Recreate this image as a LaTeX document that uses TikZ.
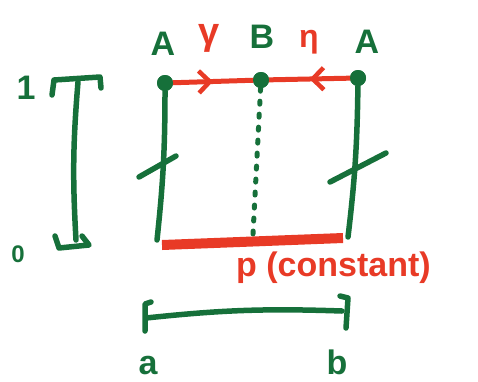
\documentclass[tikz,border=0pt]{standalone}
\usepackage{fontspec}
\setmainfont{Liberation Sans}
\usetikzlibrary{arrows.meta,decorations.markings}
\definecolor{pen}{RGB}{22,112,58}
\definecolor{ink}{RGB}{232,58,38}
\tikzset{
  greenline/.style={draw=pen,line width=5.5pt,line cap=round,line join=round},
  redline/.style={draw=ink,line width=5pt,line cap=round,line join=round},
  dot/.style={circle,fill=pen,inner sep=0pt,minimum size=16pt},
  glabel/.style={text=pen,font=\bfseries\fontsize{34}{36}\selectfont,inner sep=0pt},
  rlabel/.style={text=ink,font=\bfseries\fontsize{34}{36}\selectfont,inner sep=0pt},
  midarrow/.style={postaction={decorate,decoration={markings,
     mark=at position 0.5 with {\arrow[ink,line width=4.5pt]{Straight Barb[length=11pt,width=22pt]}}}}}
}
\begin{document}
\begin{tikzpicture}[x=1pt,y=-1pt]
\useasboundingbox (0,0) rectangle (478,381);

% corner points of the strip
\node[dot] (A0) at (165,83) {};
\node[dot] (B)  at (261,80) {};
\node[dot] (A1) at (358,78) {};
\coordinate (L0) at (157,240);
\coordinate (R0) at (348,237);
\coordinate (Bb) at (253,234);

% top labels
\node[glabel] at (163,44) {A};
\node[rlabel,font=\bfseries\fontsize{38}{40}\selectfont] at (209,38) {γ};
\node[glabel] at (262,37) {B};
\node[rlabel,font=\bfseries\fontsize{32}{34}\selectfont] at (309,42) {η};
\node[glabel] at (367,42) {A};

% sides
\draw[greenline] (A0) to[bend left=3] (L0);
\draw[greenline] (A1) to[bend left=3] (R0);
\draw[greenline] (139,177) -- (176,156);
\draw[greenline] (330,182) -- (386,153);

% dotted middle line
\draw[pen,line width=5pt,line cap=round,dash pattern=on 3pt off 10pt] (B) -- (Bb);

% top edge with paths gamma and eta
\draw[redline,midarrow] (A0) -- (B);
\draw[redline,midarrow] (A1) -- (B);
\node[dot] at (A0) {};
\node[dot] at (B) {};
\node[dot] at (A1) {};

% bottom edge
\draw[ink,line width=10pt] (162,245) -- (343,238);
\node[rlabel,anchor=west] at (236,268) {p (constant)};

% vertical interval [0,1]
\node[glabel] at (26,88) {1};
\node[glabel,font=\bfseries\fontsize{24}{26}\selectfont] at (18,254) {0};
\draw[greenline] (52,95) -- (54,80) -- (100,77) -- (101,88);
\draw[greenline] (78,82) to[bend right=4] (76,240);
\draw[greenline] (55,236) -- (59,248) -- (89,245) -- (82,236);

% horizontal interval [a,b]
\draw[greenline] (151,302) -- (145,304) -- (145,331);
\draw[greenline] (146,318) to[bend left=4] (342,311);
\draw[greenline] (340,296) -- (348,298) -- (346,328);
\node[glabel] at (148,366) {a};
\node[glabel] at (337,362) {b};
\end{tikzpicture}
\end{document}
